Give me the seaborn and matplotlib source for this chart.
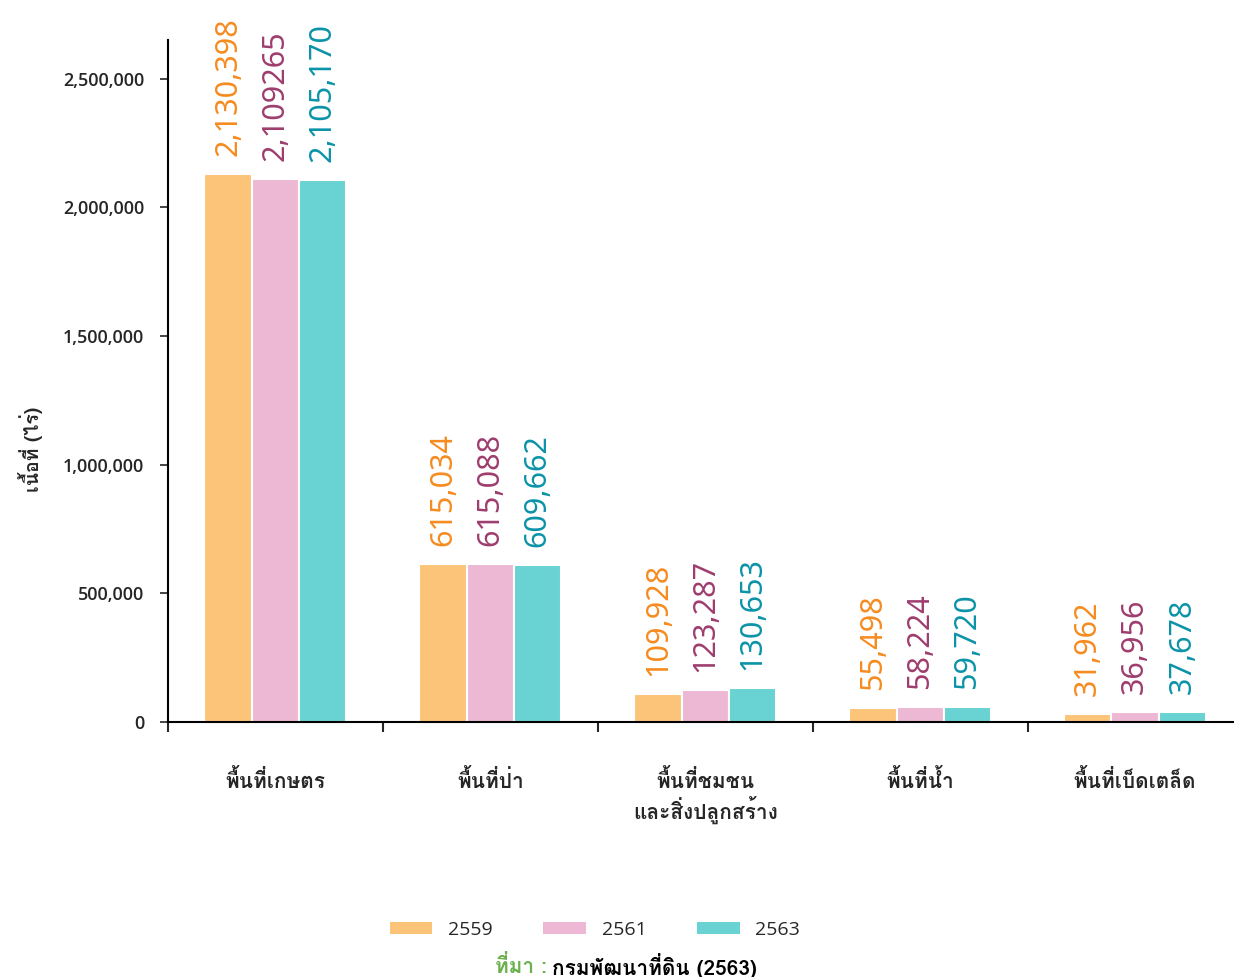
import matplotlib
matplotlib.use('Agg')
import matplotlib.pyplot as plt
from matplotlib.patches import Patch
import pandas as pd
import seaborn as sns

categories = ["พื้นที่เกษตร", "พื้นที่ป่า", "พื้นที่ชมชน\nและสิ่งปลูกสร้าง", "พื้นที่น้ำ", "พื้นที่เบ็ดเตล็ด"]
years = ["2559", "2561", "2563"]
vals_2559 = [2130398, 615034, 109928, 55498, 31962]
vals_2561 = [2109265, 615088, 123287, 58224, 36956]
vals_2563 = [2105170, 609662, 130653, 59720, 37678]
labels_2559 = ["2,130,398", "615,034", "109,928", "55,498", "31,962"]
labels_2561 = ["2,109265", "615,088", "123,287", "58,224", "36,956"]
labels_2563 = ["2,105,170", "609,662", "130,653", "59,720", "37,678"]
yticks = [0, 500000, 1000000, 1500000, 2000000, 2500000]

bar_colors = ["#FBC479", "#EDB8D4", "#68D3D2"]
text_colors = ["#F68B1F", "#9E3D6E", "#0B93A8"]

sns.set_style("white")
# Noto Sans for the digits, Loma for the Thai glyphs (marks stack right without shaping)
plt.rcParams['font.family'] = ['Noto Sans', 'Loma', 'DejaVu Sans']
thai = ['Loma', 'Noto Sans', 'DejaVu Sans']
num_font = ['Open Sans', 'Noto Sans', 'DejaVu Sans']

rows = []
for yr, vals in zip(years, [vals_2559, vals_2561, vals_2563]):
    for c, v in zip(categories, vals):
        rows.append([c, yr, v])
df = pd.DataFrame(rows, columns=["cat", "year", "value"])

fig = plt.figure(figsize=(12.34, 9.77), dpi=100)
ax = fig.add_axes([0.136, 0.261, 0.864, 0.698])

sns.barplot(data=df, x="cat", y="value", hue="year", order=categories, hue_order=years,
            palette=bar_colors, width=0.66, edgecolor="white", linewidth=1.5,
            saturation=1, legend=False, ax=ax)

for cont, labs, col in zip(ax.containers, [labels_2559, labels_2561, labels_2563], text_colors):
    ax.bar_label(cont, labels=labs, rotation=90, padding=13, color=col, fontsize=22)

ax.set_ylim(0, 2650000)
ax.set_xlim(-0.5, 4.46)
ax.set_yticks(yticks)
ax.set_yticklabels(["{:,}".format(t) for t in yticks], fontsize=13, fontweight="semibold", family=num_font)
ax.tick_params(axis="y", length=6, width=1.2, pad=11, left=True)

ax.set_xticks(range(len(categories)))
ax.set_xticklabels(categories, fontsize=15, fontweight="bold", family=thai, linespacing=1.15)
ax.tick_params(axis="x", length=0, pad=34)
ax.set_xticks([i - 0.5 for i in range(len(categories))], minor=True)
ax.tick_params(axis="x", which="minor", length=7, width=1.5, bottom=True)

ax.set_xlabel("")
ax.set_ylabel("")
sns.despine(ax=ax)
for s in ["left", "bottom"]:
    ax.spines[s].set_linewidth(1.5)
    ax.spines[s].set_color("black")

fig.text(0.025, 0.54, "เนื้อที่ (ไร่)", rotation=90, ha="center", va="center",
         fontsize=14, fontweight="bold", family=thai)

handles = [Patch(facecolor=c, edgecolor="none") for c in bar_colors]
fig.legend(handles, years, loc="center", bbox_to_anchor=(0.482, 0.048), ncol=3, frameon=False,
           prop={"family": num_font, "size": 14}, handlelength=2.2, handleheight=0.6,
           handletextpad=0.8, columnspacing=2.6)

fig.text(0.443, 0.011, "ที่มา :", ha="right", va="center", fontsize=15, fontweight="bold",
         color="#6AB04C", family=thai)
fig.text(0.447, 0.011, "กรมพัฒนาที่ดิน (2563)", ha="left", va="center", fontsize=15,
         fontweight="bold", color="black", family=thai)

fig.savefig("out.png", dpi=100)
